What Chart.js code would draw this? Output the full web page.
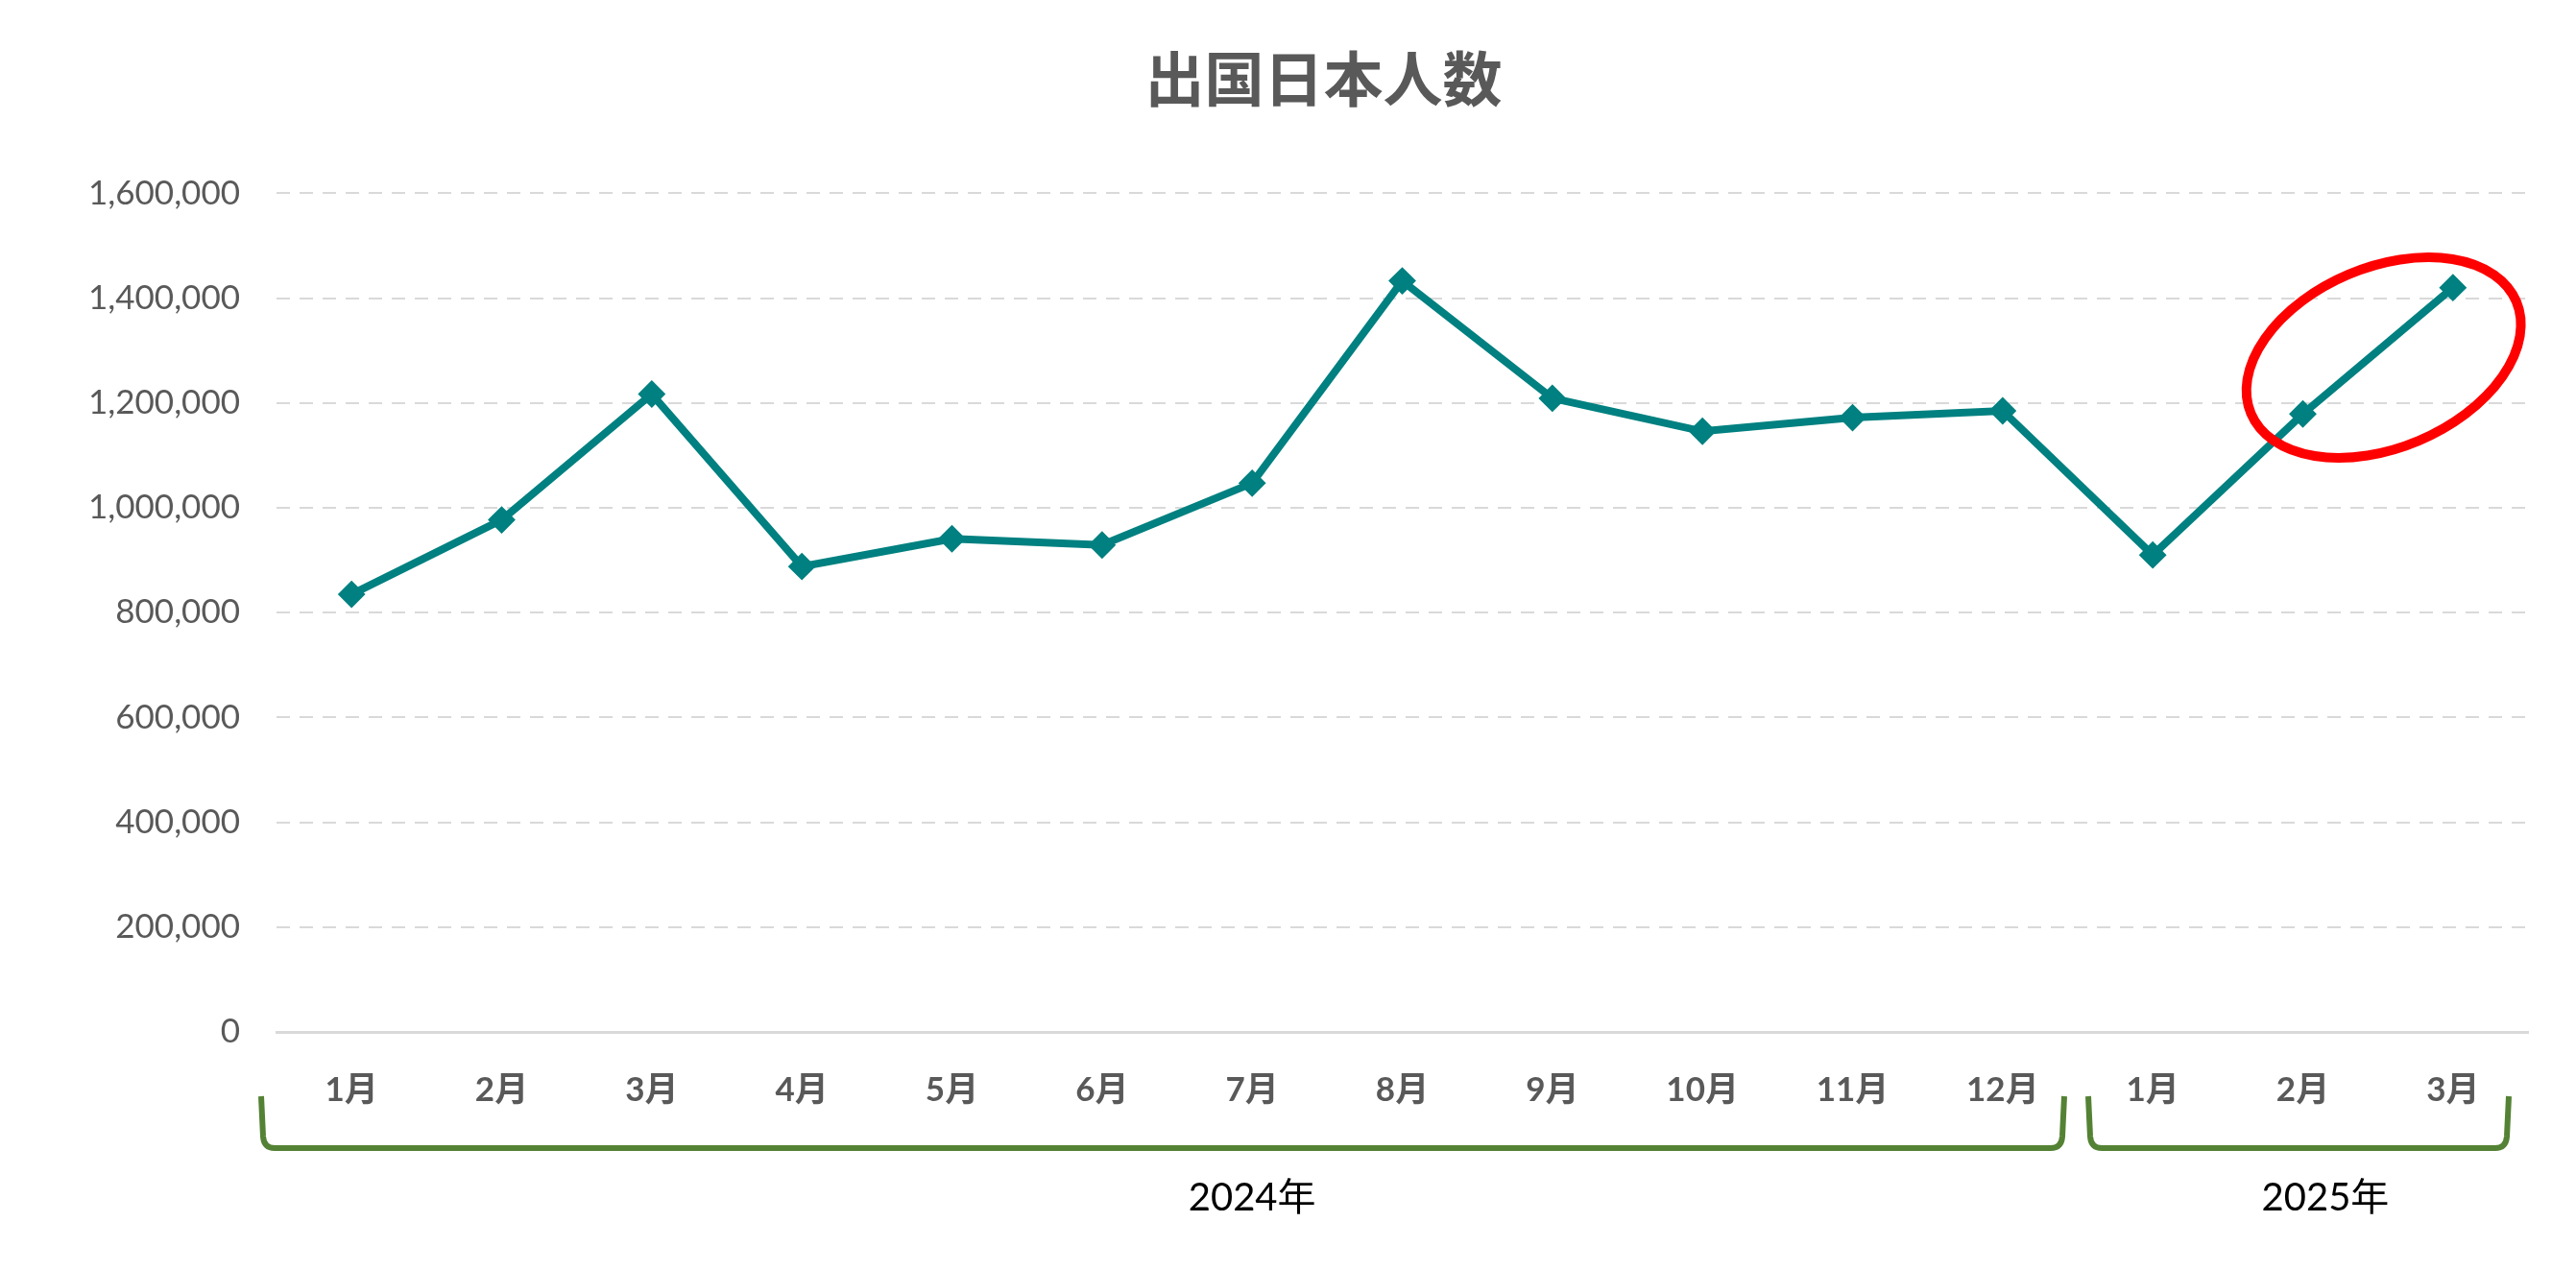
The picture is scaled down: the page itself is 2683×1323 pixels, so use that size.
<!DOCTYPE html>
<html>
<head>
<meta charset="utf-8">
<script src="https://cdn.jsdelivr.net/npm/chart.js@4"></script>
<style>
  body { margin: 0; background: #fff; }
  canvas { display: block; }
</style>
</head>
<body>
<canvas id="chart" width="2683" height="1323"></canvas>
<script>
// data
var monthLabels = ['1月', '2月', '3月', '4月', '5月', '6月', '7月', '8月', '9月', '10月', '11月', '12月', '1月', '2月', '3月'];
var travellers = [835000, 977000, 1217000, 888000, 941000, 929000, 1047000, 1433000, 1209000, 1146000, 1172000, 1185000, 910000, 1179000, 1420000];
var yearNames = ['2024年', '2025年'];
var yearFirst = [0, 12];
var yearLast = [11, 14];
var yearLabelAt = [6, 13.15];   // where excel put the year text
var circled = [13, 14];         // points inside the red ring

var numFont = "Lato, 'Noto Sans CJK JP', sans-serif";

// brackets + year text under the month labels
var yearBrackets = {
    id: 'yearBrackets',
    afterDraw: function(chart) {
        var ctx = chart.ctx;
        var x = chart.scales.x;
        var base = chart.chartArea.bottom;
        var step = x.getPixelForValue(1) - x.getPixelForValue(0);
        var top = base + 67, bot = base + 121;
        var inset = [[-16, -14], [11, -20]];
        ctx.save();
        ctx.strokeStyle = '#548235';
        ctx.lineWidth = 6;
        for (var i = 0; i < yearNames.length; i++) {
            var x1 = x.getPixelForValue(yearFirst[i]) - step / 2 + inset[i][0];
            var x2 = x.getPixelForValue(yearLast[i]) + step / 2 + inset[i][1];
            ctx.beginPath();
            ctx.moveTo(x1, top);
            ctx.lineTo(x1 + 2, bot - 12);
            ctx.quadraticCurveTo(x1 + 3, bot, x1 + 14, bot);
            ctx.lineTo(x2 - 14, bot);
            ctx.quadraticCurveTo(x2 - 3, bot, x2 - 2, bot - 12);
            ctx.lineTo(x2, top);
            ctx.stroke();

            var lx = x.getPixelForValue(0) + step * yearLabelAt[i];
            ctx.fillStyle = '#000000';
            ctx.font = '40px ' + numFont;
            ctx.textAlign = 'center';
            ctx.textBaseline = 'middle';
            ctx.fillText(yearNames[i], lx, base + 173);
        }
        ctx.restore();
    }
};

// red ring round the last two points
var redRing = {
    id: 'redRing',
    afterDatasetsDraw: function(chart) {
        var ctx = chart.ctx;
        var xs = chart.scales.x, ys = chart.scales.y;
        var cx = (xs.getPixelForValue(circled[0]) + xs.getPixelForValue(circled[1])) / 2 + 6;
        var cy = (ys.getPixelForValue(travellers[circled[0]]) + ys.getPixelForValue(travellers[circled[1]])) / 2 + 7;
        ctx.save();
        ctx.strokeStyle = '#FF0000';
        ctx.lineWidth = 10;
        ctx.beginPath();
        ctx.ellipse(cx, cy, 150, 94, -0.40, 0, Math.PI * 2);
        ctx.stroke();
        ctx.restore();
    }
};

new Chart(document.getElementById('chart'), {
    type: 'line',
    data: {
        labels: monthLabels,
        datasets: [{
            data: travellers,
            borderColor: '#008080',
            backgroundColor: '#008080',
            borderWidth: 8,
            tension: 0,
            pointStyle: 'rectRot',
            pointRadius: 13,
            pointBorderWidth: 2,
            pointBackgroundColor: '#008080',
            pointBorderColor: '#008080'
        }]
    },
    options: {
        responsive: false,
        animation: false,
        devicePixelRatio: 1,
        layout: { padding: { left: 80, right: 6, top: 0, bottom: 0 } },
        plugins: {
            legend: { display: false },
            tooltip: { enabled: false },
            title: {
                display: true,
                text: '出国日本人数',
                color: '#595959',
                font: { family: "'Noto Sans CJK JP', sans-serif", size: 62, weight: 'bold' },
                padding: { top: 45, bottom: 82 }
            }
        },
        scales: {
            x: {
                offset: true,
                grid: { display: false, drawTicks: false },
                border: { display: true, color: '#D9D9D9', width: 3 },
                ticks: {
                    color: '#595959',
                    padding: 40,
                    maxRotation: 0,
                    autoSkip: false,
                    font: { family: numFont, size: 35, weight: 'bold' }
                },
                afterFit: function(scale) { scale.height = 248; }
            },
            y: {
                min: 0,
                max: 1600000,
                grid: { color: '#D9D9D9', lineWidth: 2, drawTicks: false },
                border: { display: false, dash: [14, 10] },
                ticks: {
                    stepSize: 200000,
                    color: '#595959',
                    padding: 38,
                    font: { family: numFont, size: 35 },
                    callback: function(v) { return v.toLocaleString('en-US'); }
                },
                afterFit: function(scale) { scale.width = 208; }
            },
            // empty right-hand strip, keeps the plot edge where excel had it
            pad: {
                position: 'right',
                grid: { display: false, drawTicks: false },
                border: { display: false },
                ticks: { display: false },
                afterFit: function(scale) { scale.width = 44; }
            }
        }
    },
    plugins: [yearBrackets, redRing]
});
</script>
</body>
</html>
